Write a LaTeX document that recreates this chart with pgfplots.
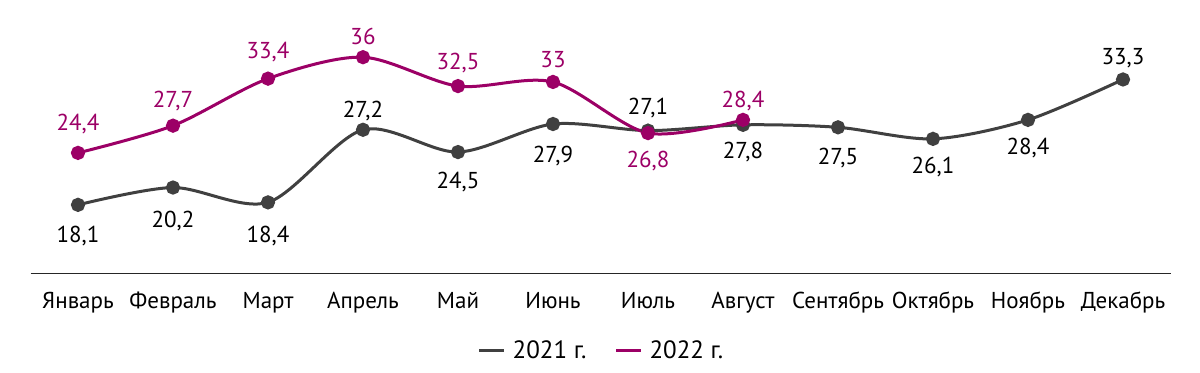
\documentclass[border=0pt]{standalone}
\usepackage{pgfplots}
\usepackage{pgfplotstable}
\pgfplotsset{compat=1.18}
\usepackage{fontspec}
\setmainfont{PT Sans}
\definecolor{magc}{RGB}{156,0,102}
\definecolor{grayc}{RGB}{64,64,64}
\pgfplotstableread{
x y lab dy
0 18.1 18,1 -38
1 20.2 20,2 -40
2 18.4 18,4 -40
3 27.2 27,2 12
4 24.5 24,5 -36
5 27.9 27,9 -38
6 27.1 27,1 16
7 27.8 27,8 -34
8 27.5 27,5 -37
9 26.1 26,1 -35
10 28.4 28,4 -35
11 33.3 33,3 15
}\tA
\pgfplotstableread{
x y lab dy
0 24.4 24,4 22
1 27.7 27,7 18
2 33.4 33,4 20
3 36 36 13
4 32.5 32,5 17
5 33 33 14
6 26.8 26,8 -34
7 28.4 28,4 12
}\tB
\begin{document}
\begin{tikzpicture}[font=\fontsize{11.5}{13}\selectfont]
\path[use as bounding box] (0,0) rectangle (600pt,186pt);
\begin{axis}[
  at={(15.25pt,49.35pt)}, anchor=south west,
  scale only axis, width=570pt, height=132.8pt,
  xmin=-0.5, xmax=11.5, ymin=9.8, ymax=42,
  axis x line=bottom, axis y line=none,
  x axis line style={-, draw=black!85, line width=0.7pt},
  xtick={0,...,11},
  xticklabels={Январь,Февраль,Март,Апрель,Май,Июнь,Июль,Август,Сентябрь,Октябрь,Ноябрь,Декабрь},
  xtick style={draw=none},
  xticklabel style={anchor=base, yshift=-15.5pt, inner sep=0pt, text=black},
  clip=false,
  legend columns=2,
  legend style={at={(0.5,-0.2925)}, anchor=center, draw=none, fill=none,
    font=\fontsize{12.5}{14}\selectfont,
    /tikz/every even column/.append style={column sep=14pt},
    nodes={inner sep=0pt, text=black}},
  legend image code/.code={\draw[#1] (0pt,0pt) -- (12.5pt,0pt);},
]
\addplot+[grayc, line width=1.5pt, smooth, tension=0.5, mark=*, mark size=2.8pt,
  mark options={fill=grayc, draw=grayc},
  visualization depends on={\thisrow{dy} \as \dy},
  point meta=explicit symbolic,
  nodes near coords,
  every node near coord/.append style={text=black, anchor=base, inner sep=0pt, yshift=\dy*0.5pt}]
  table[x=x, y=y, meta=lab] {\tA};
\addlegendentry{\hspace{3.5pt}2021 г.}
\addplot+[magc, line width=1.5pt, smooth, tension=0.5, mark=*, mark size=2.8pt,
  mark options={fill=magc, draw=magc},
  visualization depends on={\thisrow{dy} \as \dy},
  point meta=explicit symbolic,
  nodes near coords,
  every node near coord/.append style={text=magc, anchor=base, inner sep=0pt, yshift=\dy*0.5pt}]
  table[x=x, y=y, meta=lab] {\tB};
\addlegendentry{\hspace{3.5pt}2022 г.}
\end{axis}
\end{tikzpicture}
\end{document}
